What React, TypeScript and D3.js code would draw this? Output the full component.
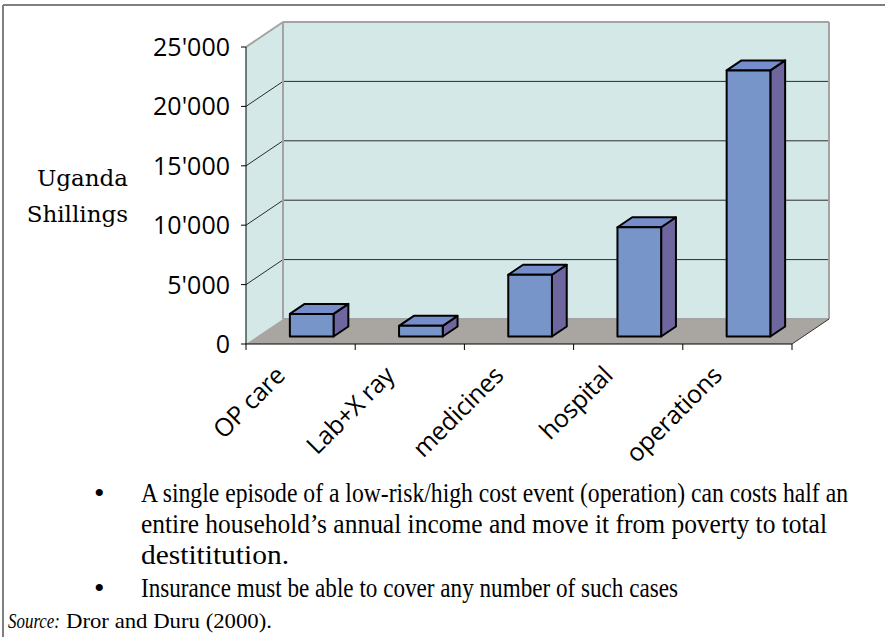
import React from 'react';
import * as d3 from 'd3';

// Cost per episode, in Uganda Shillings
const categories = ['OP care', 'Lab+X ray', 'medicines', 'hospital', 'operations'];
const costs = [1900, 900, 5200, 9200, 22400];
const yTicks = [0, 5000, 10000, 15000, 20000, 25000];
const yTitleLines = ['Uganda', 'Shillings'];

const bulletLines = [
  { text: 'A single episode of a low-risk/high cost event (operation) can costs half an', bullet: true, len: 707 },
  { text: 'entire household\u2019s annual income and move it from poverty to total', bullet: false, len: 686 },
  { text: 'destititution.', bullet: false, len: 148 },
  { text: 'Insurance must be able to cover any number of such cases', bullet: true, len: 537 },
];

const W = 885;
const H = 637;

// plot box (front plane) and oblique depth vector
const X0 = 246;
const X1 = 792;
const Y0 = 344;
const Y1 = 47;
const DX = 37;
const DY = -25;
const BAR_D0 = 0.3;
const BAR_D1 = 0.7;

// horizontal squeeze of the note text
const NOTE_SX = 0.84;

const fmt = d3
  .formatLocale({ decimal: '.', thousands: "'", grouping: [3], currency: ['', ''] })
  .format(',');

const pts = (p: [number, number][]) => p.map((q) => q.join(',')).join(' ');

export default function App() {
  const y = d3.scaleLinear().domain([0, 25000]).range([Y0, Y1]);
  const x = d3.scaleBand<string>().domain(categories).range([X0, X1]).paddingInner(0).paddingOuter(0);
  const bw = x.bandwidth();
  const barW = bw / 2.5;

  const wallFill = '#D5E8E8';
  const floorFill = '#A9A6A2';
  const edge = '#A3A3A3';

  const bx = DX * BAR_D0;
  const by = DY * BAR_D0;
  const ddx = DX * (BAR_D1 - BAR_D0);
  const ddy = DY * (BAR_D1 - BAR_D0);

  return (
    <svg
      width={W}
      height={H}
      viewBox={`0 0 ${W} ${H}`}
      style={{ position: 'absolute', left: 0, top: 0, background: '#fff' }}
    >
      {/* page frame */}
      <line x1={3} y1={5} x2={W} y2={5} stroke="#7f7f7f" strokeWidth={2} />
      <line x1={3} y1={5} x2={3} y2={H} stroke="#7f7f7f" strokeWidth={2} />

      {/* side wall */}
      <polygon
        points={pts([
          [X0, Y0],
          [X0, Y1],
          [X0 + DX, Y1 + DY],
          [X0 + DX, Y0 + DY],
        ])}
        fill={wallFill}
      />
      {/* back wall */}
      <rect x={X0 + DX} y={Y1 + DY} width={X1 - X0} height={Y0 - Y1} fill={wallFill} />
      {/* floor */}
      <polygon
        points={pts([
          [X0, Y0],
          [X0 + DX, Y0 + DY],
          [X1 + DX, Y0 + DY],
          [X1, Y0],
        ])}
        fill={floorFill}
      />

      {/* gridlines */}
      {yTicks
        .filter((t) => t > 0 && t < 25000)
        .map((t) => (
          <g key={t} stroke="#2b2b2b" strokeWidth={1}>
            <line x1={X0} y1={y(t)} x2={X0 + DX} y2={y(t) + DY} />
            <line x1={X0 + DX} y1={y(t) + DY} x2={X1 + DX} y2={y(t) + DY} />
          </g>
        ))}

      {/* wall edges */}
      <g stroke={edge} strokeWidth={2} fill="none">
        <line x1={X0} y1={Y1} x2={X0 + DX} y2={Y1 + DY} />
        <line x1={X0 + DX} y1={Y1 + DY} x2={X1 + DX} y2={Y1 + DY} />
        <line x1={X0 + DX} y1={Y1 + DY} x2={X0 + DX} y2={Y0 + DY} />
        <line x1={X1 + DX} y1={Y1 + DY} x2={X1 + DX} y2={Y0 + DY} />
        <line x1={X0 + DX} y1={Y0 + DY} x2={X1 + DX} y2={Y0 + DY} />
      </g>
      <line x1={X1} y1={Y0} x2={X1 + DX} y2={Y0 + DY} stroke="#333" strokeWidth={1} />

      {/* axes */}
      <line x1={X0} y1={Y1} x2={X0} y2={Y0} stroke="#000" strokeWidth={1} />
      <line x1={X0} y1={Y0} x2={X1} y2={Y0} stroke="#000" strokeWidth={1} />
      {yTicks.map((t) => (
        <g key={t}>
          <line x1={X0 - 5} y1={y(t)} x2={X0} y2={y(t)} stroke="#000" strokeWidth={1} />
          <text
            x={X0 - 16}
            y={y(t)}
            dy="0.36em"
            textAnchor="end"
            fontFamily="'Open Sans', sans-serif"
            fontSize={25}
            fill="#000"
          >
            {fmt(t)}
          </text>
        </g>
      ))}
      {[...categories.map((c) => x(c) as number), X1].map((v, i) => (
        <line key={i} x1={v} y1={Y0} x2={v} y2={Y0 + 6} stroke="#000" strokeWidth={1} />
      ))}

      {/* bars */}
      {categories.map((c, i) => {
        const v = costs[i];
        const fx = (x(c) as number) + (bw - barW) / 2 + bx;
        const bottom = y(0) + by;
        const top = y(v) + by;
        return (
          <g key={c} stroke="#000" strokeWidth={2} strokeLinejoin="round">
            <polygon
              points={pts([
                [fx + barW, top],
                [fx + barW + ddx, top + ddy],
                [fx + barW + ddx, bottom + ddy],
                [fx + barW, bottom],
              ])}
              fill="#6E669E"
            />
            <polygon
              points={pts([
                [fx, top],
                [fx + barW, top],
                [fx + barW + ddx, top + ddy],
                [fx + ddx, top + ddy],
              ])}
              fill="#768DCB"
            />
            <rect x={fx} y={top} width={barW} height={bottom - top} fill="#7895C9" />
          </g>
        );
      })}

      {/* category labels */}
      {categories.map((c) => {
        const cx = (x(c) as number) + bw / 2 - 14;
        const cy = 377;
        return (
          <text
            key={c}
            x={cx}
            y={cy}
            transform={`rotate(-45 ${cx} ${cy})`}
            textAnchor="end"
            fontFamily="'Open Sans', sans-serif"
            fontSize={25}
            letterSpacing={-0.3}
            fill="#000"
          >
            {c}
          </text>
        );
      })}

      {/* value axis title */}
      {yTitleLines.map((s, i) => (
        <text
          key={s}
          x={128}
          y={186 + i * 36}
          textAnchor="end"
          fontFamily="'DejaVu Serif', serif"
          fontSize={23}
          fill="#000"
        >
          {s}
        </text>
      ))}

      {/* notes */}
      {bulletLines.map((l, i) => {
        const base = 502 + i * 31 + (i >= 3 ? 2 : 0);
        return (
          <g key={i} fontFamily="'Liberation Serif', serif" fill="#000">
            {l.bullet && (
              <text x={94} y={base + 1} fontSize={30}>
                {'\u2022'}
              </text>
            )}
            <g transform={`translate(141 ${base}) scale(${NOTE_SX} 1)`}>
              <text
                x={0}
                y={0}
                fontSize={27}
                textLength={l.len / NOTE_SX}
                lengthAdjust="spacingAndGlyphs"
              >
                {l.text}
              </text>
            </g>
          </g>
        );
      })}
      <g transform={`translate(8 628) scale(${NOTE_SX} 1)`} fontFamily="'Liberation Serif', serif" fontSize={21}>
        <text x={0} y={0} fontStyle="italic" textLength={52 / NOTE_SX} lengthAdjust="spacingAndGlyphs">
          Source:
        </text>
        <text x={58 / NOTE_SX} y={0} textLength={206 / NOTE_SX} lengthAdjust="spacingAndGlyphs">
          Dror and Duru (2000).
        </text>
      </g>
    </svg>
  );
}
